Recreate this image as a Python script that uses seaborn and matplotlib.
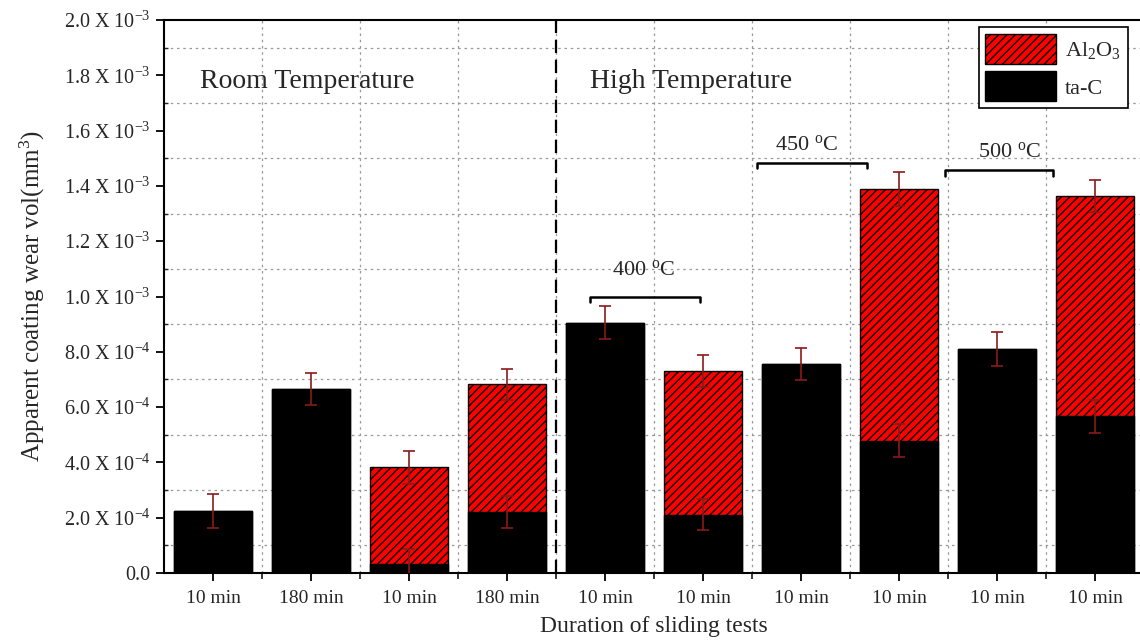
import numpy as np
import pandas as pd
import matplotlib
matplotlib.use('Agg')
import matplotlib.pyplot as plt
from matplotlib.patches import Patch
import seaborn as sns

# values (units of 1e-4 mm^3)
labels = ['10 min', '180 min', '10 min', '180 min', '10 min',
          '10 min', '10 min', '10 min', '10 min', '10 min']
ta_c = [2.24, 6.64, 0.33, 2.22, 9.05, 2.10, 7.55, 4.78, 8.10, 5.67]
al2o3 = [0.0, 0.0, 3.49, 4.60, 0.0, 5.20, 0.0, 9.12, 0.0, 7.98]
ta_c_err = [0.60, 0.58, 0.55, 0.58, 0.60, 0.56, 0.58, 0.60, 0.60, 0.60]
total_err = [0.0, 0.0, 0.60, 0.55, 0.0, 0.58, 0.0, 0.62, 0.0, 0.58]
y_ticks = [0, 2, 4, 6, 8, 10, 12, 14, 16, 18, 20]
y_ticklabels = ['0.0', r'2.0 X 10$^{-4}$', r'4.0 X 10$^{-4}$', r'6.0 X 10$^{-4}$',
                r'8.0 X 10$^{-4}$', r'1.0 X 10$^{-3}$', r'1.2 X 10$^{-3}$',
                r'1.4 X 10$^{-3}$', r'1.6 X 10$^{-3}$', r'1.8 X 10$^{-3}$',
                r'2.0 X 10$^{-3}$']

scale = 1e-4
df = pd.DataFrame({
    'pos': range(len(labels)),
    'ta_c': np.array(ta_c) * scale,
    'total': (np.array(ta_c) + np.array(al2o3)) * scale,
})

sns.set_style('ticks')
plt.rcParams['font.family'] = ['Liberation Serif', 'DejaVu Serif']
plt.rcParams['mathtext.fontset'] = 'custom'
plt.rcParams['mathtext.rm'] = 'Liberation Serif'
plt.rcParams['mathtext.it'] = 'Liberation Serif:italic'
plt.rcParams['hatch.linewidth'] = 1.0

fig = plt.figure(figsize=(11.4, 6.4), dpi=100)
ax = fig.add_axes([164 / 1140, 1 - 573 / 640, 980 / 1140, 553 / 640])

sns.barplot(data=df, x='pos', y='total', color='red', edgecolor='black', hatch='////',
            linewidth=1, width=0.8, saturation=1, errorbar=None, ax=ax, zorder=2)
sns.barplot(data=df, x='pos', y='ta_c', color='black', edgecolor='black',
            linewidth=1, width=0.8, saturation=1, errorbar=None, ax=ax, zorder=3)

pos = np.arange(len(labels))
ax.errorbar(pos, df['ta_c'], yerr=np.array(ta_c_err) * scale, fmt='none',
            ecolor='#8b1a1a', elinewidth=1.2, capsize=4, capthick=1.2, zorder=4)
has_al = np.array(al2o3) > 0
ax.errorbar(pos[has_al], df['total'][has_al], yerr=np.array(total_err)[has_al] * scale,
            fmt='none', ecolor='#8b1a1a', elinewidth=1.2, capsize=4, capthick=1.2, zorder=4)

ax.set_xlim(-0.5, len(labels) - 0.5)
ax.set_ylim(0, 20 * scale)
ax.set_xticks(pos)
ax.set_xticklabels(labels, fontsize=14)
ax.set_xticks(np.arange(0.5, len(labels) - 0.5, 1), minor=True)
ax.set_yticks(np.array(y_ticks) * scale)
ax.set_yticklabels(y_ticklabels, fontsize=14.5)
ax.set_yticks(np.arange(1, 20, 2) * scale, minor=True)

ax.grid(False)
ax.grid(which='minor', color='#999999', ls=(0, (2, 3)), lw=0.9)
ax.set_axisbelow(True)

ax.tick_params(axis='both', which='major', direction='out', length=6, width=1.3, color='black')
ax.tick_params(axis='x', which='major', pad=6)
ax.tick_params(axis='x', which='minor', direction='out', length=4, width=1.3)
ax.tick_params(axis='y', which='minor', direction='in', length=3, width=1)
for s in ax.spines.values():
    s.set_linewidth(1.5)
    s.set_color('black')

ax.set_xlabel('Duration of sliding tests', fontsize=17, labelpad=7)
ax.set_ylabel('Apparent coating wear vol(mm$^3$)', fontsize=18, labelpad=12)

# room / high temperature split
ax.axvline(3.5, color='black', ls=(0, (6, 3)), lw=1.6, zorder=5)
ax.text(0.96, 17.76 * scale, 'Room Temperature', fontsize=20, ha='center', va='center')
ax.text(4.88, 17.76 * scale, 'High Temperature', fontsize=20, ha='center', va='center')

# temperature brackets
brackets = [(3.85, 4.97, 10.0, 4.39, 10.96, '400'),
            (5.55, 6.67, 14.83, 6.06, 15.48, '450'),
            (7.47, 8.57, 14.57, 8.13, 15.23, '500')]
for x0, x1, yb, tx, ty, t in brackets:
    d = 0.2
    ax.plot([x0, x0, x1, x1], [(yb - d) * scale, yb * scale, yb * scale, (yb - d) * scale],
            color='black', lw=1.8, zorder=5)
    ax.text(tx, ty * scale, t + r' $^{\rm o}$C', fontsize=16, ha='center', va='center')

handles = [Patch(facecolor='red', edgecolor='black', hatch='////', lw=1),
           Patch(facecolor='black', edgecolor='black', lw=1)]
leg = ax.legend(handles, [r'Al$_2$O$_3$', 'ta-C'], loc='upper right',
                bbox_to_anchor=(1128 / 1140, 1 - 27 / 640), bbox_transform=fig.transFigure,
                fontsize=16, frameon=True, fancybox=False, framealpha=1,
                handlelength=3.2, handleheight=1.7, handletextpad=0.4,
                borderpad=0.3, labelspacing=0.35, borderaxespad=0)
leg.get_frame().set_edgecolor('black')
leg.get_frame().set_linewidth(1.2)

fig.savefig('out.png', dpi=100)
